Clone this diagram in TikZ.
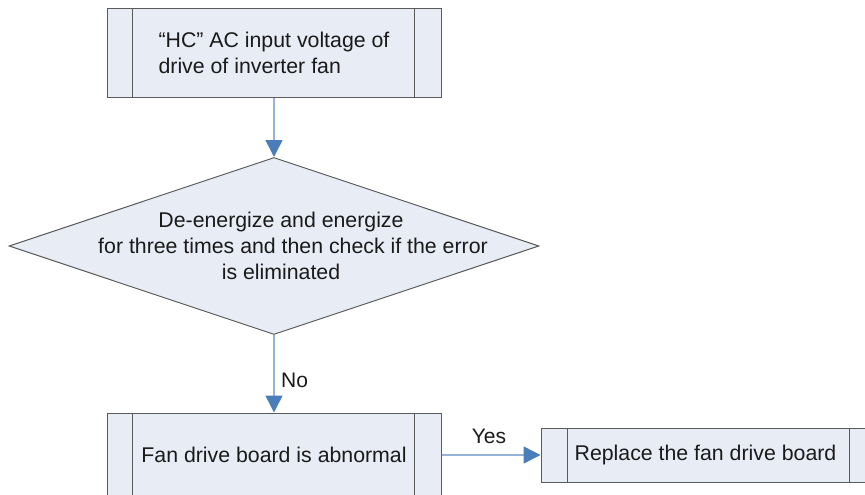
\documentclass[tikz,border=0pt]{standalone}
\usepackage{fontspec}
\setmainfont{Liberation Sans}
\usetikzlibrary{arrows.meta,shapes.geometric}
\definecolor{boxfill}{HTML}{E8ECF5}
\definecolor{boxline}{HTML}{5A5A5A}
\definecolor{linkline}{HTML}{95B3D7}
\definecolor{headblue}{HTML}{4A7EBB}
\definecolor{txt}{HTML}{1A1A1A}
\tikzset{
  x=1pt, y=-1pt,
  procbox/.style={draw=boxline, fill=boxfill, line width=1pt, rectangle,
    inner sep=0pt, text=txt, align=left,
    font=\fontsize{21.3}{26.5}\selectfont},
  decbox/.style={draw=boxline, fill=boxfill, line width=1pt, diamond,
    inner sep=0pt},
  dectxt/.style={text=txt, align=center, inner sep=0pt,
    font=\fontsize{21.3}{26}\selectfont},
  sideline/.style={draw=boxline, line width=1pt},
  link/.style={draw=linkline, line width=1.5pt,
    -{Triangle[length=17pt,width=17pt,color=headblue]}},
  lbl/.style={text=txt, font=\fontsize{21}{26}\selectfont, inner sep=0pt}
}
\begin{document}
\begin{tikzpicture}
\useasboundingbox (0,0) rectangle (865,495);
\clip (0,0) rectangle (865,495);
\node[procbox, minimum width=334pt, minimum height=88pt] (top) at (274,53)
  {“HC” AC input voltage of\\drive of inverter fan};
\draw[sideline] ([xshift=26pt]top.north west) -- ([xshift=26pt]top.south west);
\draw[sideline] ([xshift=-27pt]top.north east) -- ([xshift=-27pt]top.south east);

\node[decbox, minimum width=530pt, minimum height=177pt] (dec) at (274,246) {};
\node[dectxt] (dectext) at (281,246)
  {De-energize and energize\\\hspace*{24pt}for three times and then check if the error\\is eliminated};

\node[procbox, minimum width=334pt, minimum height=84pt] (bot) at (274,455)
  {Fan drive board is abnormal};
\draw[sideline] ([xshift=26pt]bot.north west) -- ([xshift=26pt]bot.south west);
\draw[sideline] ([xshift=-27pt]bot.north east) -- ([xshift=-27pt]bot.south east);

\node[procbox, minimum width=335pt, minimum height=54pt] (rep) at (708.5,455)
  {\hspace*{-6pt}Replace the fan drive board};
\draw[sideline] ([xshift=27pt]rep.north west) -- ([xshift=27pt]rep.south west);
\draw[sideline] ([xshift=-27pt]rep.north east) -- ([xshift=-27pt]rep.south east);

\draw[link] (top.south) -- (dec.north);
\draw[link] (dec.south) -- (bot.north);
\draw[link] (bot.east) -- (rep.west);

\node[lbl, anchor=west] (no) at (281,380) {No};
\node[lbl] (yes) at (489,436) {Yes};
\end{tikzpicture}
\end{document}
